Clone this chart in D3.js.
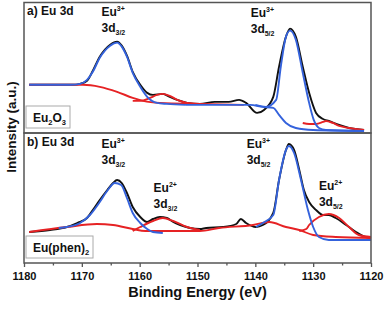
<!DOCTYPE html>
<html>
<head>
<meta charset="utf-8">
<script src="https://cdn.jsdelivr.net/npm/d3@7"></script>
<style>
body { margin: 0; background: #fff; }
text { font-family: "Liberation Sans", Arial, sans-serif; font-weight: bold; fill: #111; }
</style>
</head>
<body>
<div id="chart"></div>
<script>
// binding energy ticks (eV)
const majorTicks = [1180, 1170, 1160, 1150, 1140, 1130, 1120]
const minorTicks = [1175, 1165, 1155, 1145, 1135, 1125]

// panel a) Eu2O3 : [energy, intensity]
const aMeasured = [[1179.1,48],[1175.5,48],[1171.5,48],[1170.3,49],[1169.1,52],[1168.1,62],[1166.9,76],[1165.1,88],[1163.9,91],[1163.1,87],[1162.2,77],[1161.2,61],[1159.9,48],[1158.7,40],[1157.7,38],[1156.0,39],[1154.8,36],[1153.5,33],[1151.8,30],[1149.6,29],[1147.0,31],[1144.6,31],[1142.8,33],[1141.6,30],[1139.7,20],[1138.5,23],[1136.9,36],[1135.9,66],[1134.7,96],[1134.0,104],[1133.0,96],[1131.8,66],[1130.7,40],[1129.5,20],[1128.3,14],[1127.3,12],[1125.5,8],[1123.8,5],[1121.2,3]]
const aEu3_32 = [[1179.1,48],[1172.0,48],[1170.3,49],[1169.1,53],[1168.1,61],[1166.9,75],[1165.1,87],[1163.9,90],[1163.1,86],[1162.2,76],[1161.2,60],[1159.9,46],[1158.7,36],[1157.0,30],[1155.3,29],[1152.0,28]]
const aEu3_52 = [[1140.0,28],[1138.2,26],[1136.4,33],[1135.6,66],[1134.7,96],[1134.0,102],[1133.0,93],[1131.8,60],[1130.7,30],[1129.9,13],[1129.0,5],[1127.8,3],[1121.2,2]]
const aBgLeft = [[1179.1,48],[1169.8,48],[1166.9,46],[1163.9,41],[1161.2,35],[1159.4,32],[1156.5,30],[1149.6,29],[1142.0,28]]
const aBgRight = [[1152.0,28],[1140.9,28],[1138.7,26],[1136.9,25],[1135.9,18],[1134.7,10],[1133.0,5],[1130.0,3],[1121.2,2]]
const aSat1 = [[1161.2,32],[1159.9,32],[1158.2,35],[1157.0,38],[1156.0,39],[1154.8,37],[1153.5,33],[1151.8,30],[1149.6,29]]
const aSat2 = [[1131.8,10],[1130.7,9],[1129.5,9],[1128.3,11],[1127.8,12],[1126.6,10],[1125.5,7],[1123.8,5],[1121.2,3]]

// panel b) Eu(phen)2
const bMeasured = [[1179.1,31],[1175.5,33],[1172.6,36],[1170.8,40],[1169.1,45],[1168.1,53],[1166.9,63],[1165.6,73],[1164.6,80],[1163.9,83],[1163.1,80],[1162.2,70],[1161.2,56],[1159.9,46],[1158.7,41],[1157.7,44],[1156.5,46],[1155.3,45],[1154.2,41],[1153.0,38],[1151.3,35],[1149.6,34],[1148.5,35],[1145.6,36],[1143.3,39],[1142.5,44],[1141.6,40],[1139.9,36],[1138.7,38],[1136.9,50],[1135.9,83],[1134.7,113],[1134.2,119],[1133.3,113],[1132.4,93],[1131.6,73],[1130.7,61],[1129.5,53],[1128.3,48],[1127.3,48],[1126.1,45],[1124.3,38],[1122.6,31],[1120.9,26],[1120.0,25]]
const bEu3_32 = [[1174.0,35],[1172.6,36],[1170.3,40],[1168.6,48],[1166.9,61],[1165.5,73],[1164.3,80],[1163.2,78],[1162.2,65],[1161.2,50],[1159.9,40],[1158.7,34],[1157.7,31],[1156.0,30]]
const bEu3_52 = [[1139.9,36],[1138.7,40],[1136.9,48],[1135.9,83],[1134.7,113],[1134.2,117],[1133.3,110],[1132.1,83],[1130.9,53],[1130.0,36],[1129.0,26],[1127.3,23],[1120.0,23]]
const bBg = [[1179.1,31],[1172.6,36],[1167.4,39],[1164.6,38],[1161.2,34],[1159.0,32],[1149.6,32],[1146.3,35],[1140.4,38],[1137.6,41],[1134.7,36],[1132.4,33],[1130.0,28],[1126.1,26],[1120.0,25]]
const bEu2_32 = [[1161.2,32],[1159.9,36],[1157.7,42],[1156.0,45],[1154.2,42],[1151.8,36],[1149.6,33]]
const bEu2_52 = [[1132.4,32],[1131.2,34],[1130.7,38],[1129.0,46],[1127.3,49],[1125.5,45],[1123.8,36],[1122.1,28],[1120.0,26]]

const BLACK = '#111', BLUE = '#3462dc', RED = '#e62224'

const width = 386, height = 309
const left = 24, right = 371
const svg = d3.select('#chart').append('svg').attr('width', width).attr('height', height)

const x = d3.scaleLinear().domain([1180, 1120]).range([left, right])

const panels = [
    { top: 2.5, bottom: 133, label: 'a) Eu 3d',
      curves: [[aMeasured, BLACK], [aBgLeft, RED], [aSat1, RED], [aSat2, RED], [aBgRight, BLUE], [aEu3_32, BLUE], [aEu3_52, BLUE]],
      peaks: [
          { e: 1166.6, y: 16, ion: '3+', sub: '3/2' },
          { e: 1140.8, y: 17, ion: '3+', sub: '5/2' }
      ],
      legend: { w: 44, parts: [['Eu', 0], ['2', 1], ['O', 0], ['3', 1]] } },
    { top: 133, bottom: 263, label: 'b) Eu 3d',
      curves: [[bMeasured, BLACK], [bBg, RED], [bEu2_32, RED], [bEu2_52, RED], [bEu3_32, BLUE], [bEu3_52, BLUE]],
      peaks: [
          { e: 1166.6, y: 148, ion: '3+', sub: '3/2' },
          { e: 1157.6, y: 192, ion: '2+', sub: '3/2' },
          { e: 1141.5, y: 148, ion: '3+', sub: '5/2' },
          { e: 1129.0, y: 190, ion: '2+', sub: '5/2' }
      ],
      legend: { w: 67, parts: [['Eu(phen)', 0], ['2', 1]] } }
]

panels.forEach(p => {
    const y = d3.scaleLinear().domain([0, 130]).range([p.bottom, p.top])
    const line = d3.line().x(d => x(d[0])).y(d => y(d[1])).curve(d3.curveMonotoneX)
    const g = svg.append('g')
    p.curves.forEach(c => {
        g.append('path').attr('d', line(c[0]))
            .attr('fill', 'none').attr('stroke', c[1]).attr('stroke-width', 1.9)
            .attr('stroke-linejoin', 'round')
    })

    g.append('text').attr('x', 27).attr('y', p.top + 12.5).attr('font-size', 12).text(p.label)

    p.peaks.forEach(k => {
        const t1 = g.append('text').attr('x', x(k.e)).attr('y', k.y).attr('font-size', 12)
        t1.append('tspan').text('Eu')
        t1.append('tspan').attr('font-size', 7).attr('dy', -5).text(k.ion)
        const t2 = g.append('text').attr('x', x(k.e)).attr('y', k.y + 16).attr('font-size', 12)
        t2.append('tspan').text('3d')
        t2.append('tspan').attr('font-size', 7).attr('dy', 3).text(k.sub)
    })

    const lg = g.append('g').attr('transform', `translate(26,${p.bottom - 27})`)
    lg.append('rect').attr('width', p.legend.w).attr('height', 22)
        .attr('fill', '#fff').attr('stroke', '#aaa').attr('stroke-width', 1)
    const lt = lg.append('text').attr('x', 7).attr('y', 16).attr('font-size', 12)
    let shift = 0
    p.legend.parts.forEach(part => {
        const ts = lt.append('tspan').text(part[0])
        const dy = part[1] ? 3 : 0
        ts.attr('dy', dy - shift)
        if (part[1]) ts.attr('font-size', 7.5)
        shift = dy
    })

    svg.append('rect').attr('x', left).attr('y', p.top)
        .attr('width', right - left).attr('height', p.bottom - p.top)
        .attr('fill', 'none').attr('stroke', '#555').attr('stroke-width', 1.5)
})

const axis = svg.append('g').attr('transform', `translate(0,263)`)
    .call(d3.axisBottom(x).tickValues(majorTicks).tickSize(4).tickPadding(5).tickFormat(d3.format('d')))
axis.selectAll('text').attr('font-size', 11).attr('fill', '#111').style('font-family', '"Liberation Sans", Arial, sans-serif').style('font-weight', 'bold')
axis.selectAll('line').attr('stroke', '#555').attr('stroke-width', 1.3)
axis.select('.domain').remove()

const minor = svg.append('g').attr('transform', `translate(0,263)`)
    .call(d3.axisBottom(x).tickValues(minorTicks).tickSize(2.5).tickFormat(''))
minor.selectAll('line').attr('stroke', '#555').attr('stroke-width', 1.3)
minor.select('.domain').remove()

svg.append('text').attr('x', (left + right) / 2).attr('y', 297)
    .attr('text-anchor', 'middle').attr('font-size', 14.5).text('Binding Energy (eV)')

svg.append('text').attr('transform', 'translate(16,127) rotate(-90)')
    .attr('text-anchor', 'middle').attr('font-size', 13.5).text('Intensity (a.u.)')
</script>
</body>
</html>
